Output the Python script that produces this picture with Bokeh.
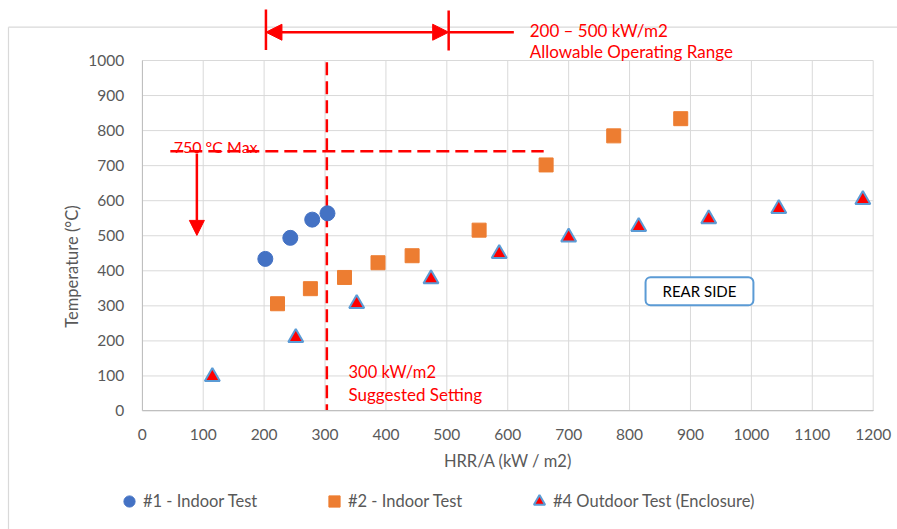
import math
from bokeh.plotting import figure
from bokeh.models import (Range1d, FixedTicker, Legend, LegendItem, Label, Arrow,
                          NormalHead)
from bokeh.embed import file_html
from bokeh.resources import INLINE

# ---- data ----
s1_x = [202, 243, 279, 304]
s1_y = [434, 494, 546, 564]
s2_x = [222, 276, 332, 387, 443, 553, 663, 774, 884]
s2_y = [306, 349, 381, 423, 443, 516, 702, 785, 834]
s3_x = [115, 252, 352, 474, 586, 700, 815, 930, 1045, 1183]
s3_y = [98, 209, 306, 377, 449, 496, 526, 548, 577, 603]
series_names = ["#1 - Indoor Test", "#2 - Indoor Test", "#4 Outdoor Test (Enclosure)"]
x_ticks = list(range(0, 1201, 100))
y_ticks = list(range(0, 1001, 100))
x_min, x_max = 0, 1200
y_min, y_max = 0, 1000
x_title = "HRR/A (kW / m2)"
y_title = "Temperature (°C)"

# annotation values (data units)
suggested_x = 303
max_temp_y = 741
range_lo, range_hi = 203, 503

FONT = "Lato"
GREY = "#595959"
RED = "#FF0000"
GRID = "#d9d9d9"

# frame covers the whole canvas; axes are pinned at x=0 / y=0
p = figure(width=897, height=529, output_backend="svg", toolbar_location=None,
           x_range=Range1d(-232.8, 1239.9), y_range=Range1d(-338.1, 1171.2),
           min_border_left=0, min_border_right=0, min_border_top=0,
           min_border_bottom=0)
p.outline_line_color = None
p.background_fill_color = "white"
p.border_fill_color = "white"
p.xgrid.visible = False
p.ygrid.visible = False

# chart-area border (left and top edges)
p.segment(x0=[-219.7, -219.7], y0=[1095, 1095], x1=[-219.7, 1300], y1=[-400, 1095],
          line_color=GRID, line_width=1.2, level="underlay")

# grid lines from the tick lists
p.segment(x0=x_ticks, y0=[y_min] * len(x_ticks), x1=x_ticks, y1=[y_max] * len(x_ticks),
          line_color=GRID, line_width=1, level="underlay")
p.segment(x0=[x_min] * len(y_ticks), y0=y_ticks, x1=[x_max] * len(y_ticks), y1=y_ticks,
          line_color=GRID, line_width=1, level="underlay")

p.xaxis.fixed_location = 0
p.yaxis.fixed_location = 0
p.xaxis.bounds = (x_min, x_max)
p.yaxis.bounds = (y_min, y_max)
p.xaxis.ticker = FixedTicker(ticks=x_ticks)
p.yaxis.ticker = FixedTicker(ticks=y_ticks)
for ax in (p.xaxis[0], p.yaxis[0]):
    ax.major_tick_line_color = None
    ax.minor_tick_line_color = None
    ax.major_tick_out = 0
    ax.major_tick_in = 0
    ax.minor_tick_out = 0
    ax.axis_line_color = "#bfbfbf"
    ax.major_label_text_font = FONT
    ax.major_label_text_font_size = "15.5px"
    ax.major_label_text_color = GREY
p.xaxis.major_label_standoff = 18
p.yaxis.major_label_standoff = 18
p.xaxis.axis_label = x_title
p.xaxis.axis_label_text_font = FONT
p.xaxis.axis_label_text_font_size = "16.5px"
p.xaxis.axis_label_text_font_style = "normal"
p.xaxis.axis_label_text_color = GREY
p.xaxis.axis_label_standoff = 8

p.add_layout(Label(x=-116.2, y=412, text=y_title, angle=math.pi / 2,
                   text_align="center", text_baseline="middle",
                   text_font=FONT, text_font_size="16.5px", text_color=GREY))

# dashed guide lines
p.segment(x0=[suggested_x], y0=[995], x1=[suggested_x], y1=[0],
          line_color=RED, line_width=2.5, line_dash="13 6")
p.segment(x0=[46], y0=[max_temp_y], x1=[659], y1=[max_temp_y],
          line_color=RED, line_width=2.5, line_dash="13 6")

# series
r1 = p.scatter(s1_x, s1_y, marker="circle", size=15, fill_color="#4472C4",
               line_color="#4472C4")
r2 = p.scatter(s2_x, s2_y, marker="square", size=14, fill_color="#ED7D31",
               line_color="#ED7D31")
r3 = p.scatter(s3_x, s3_y, marker="triangle", size=15, fill_color=RED,
               line_color="#5B9BD5", line_width=2)

def red_label(x, y, txt, size="17px"):
    p.add_layout(Label(x=x, y=y, text=txt, text_align="left", text_baseline="middle",
                       text_font=FONT, text_font_size=size, text_color=RED))

red_label(636, 1085.6, "200 – 500 kW/m2")
red_label(636, 1025.7, "Allowable Operating Range")
red_label(51.5, 755, "750 °C Max", "16px")
red_label(338.6, 111, "300 kW/m2", "16.5px")
red_label(338.6, 47, "Suggested Setting")

p.add_layout(Label(x=914.8, y=341.5, text="REAR SIDE", text_align="center",
                   text_baseline="middle", text_font=FONT, text_font_size="15px",
                   text_color="black", background_fill_color="white",
                   border_line_color="#5B9BD5", border_line_width=2,
                   border_radius=5, padding=dict(left=17, right=17, top=5, bottom=5)))

legend = Legend(items=[LegendItem(label=series_names[0], renderers=[r1]),
                       LegendItem(label=series_names[1], renderers=[r2]),
                       LegendItem(label=series_names[2], renderers=[r3])],
                orientation="horizontal", location=(115, 14),
                glyph_width=28, glyph_height=28, label_standoff=0,
                label_width=118, spacing=59, padding=0, margin=0,
                border_line_color=None, background_fill_color=None,
                label_text_font=FONT, label_text_font_size="16.5px",
                label_text_color=GREY)
p.add_layout(legend, "center")

# arrows (drawn last)
p.add_layout(Arrow(x_start=range_hi, y_start=1080.7, x_end=610, y_end=1080.7,
                   line_color=RED, line_width=2.5, end=None))
p.add_layout(Arrow(x_start=range_lo, y_start=1145.4, x_end=range_lo, y_end=1030,
                   line_color=RED, line_width=2.5, end=None))
p.add_layout(Arrow(x_start=range_hi, y_start=1142.7, x_end=range_hi, y_end=1028.5,
                   line_color=RED, line_width=2.5, end=None))
p.add_layout(Arrow(x_start=range_lo, y_start=1080.7, x_end=range_hi, y_end=1080.7,
                   line_color=RED, line_width=2.5,
                   start=NormalHead(size=16, fill_color=RED, line_color=RED),
                   end=NormalHead(size=16, fill_color=RED, line_color=RED)))
p.add_layout(Arrow(x_start=89.6, y_start=735, x_end=89.6, y_end=501,
                   line_color=RED, line_width=2.5,
                   end=NormalHead(size=15, fill_color=RED, line_color=RED)))

open("out.html", "w").write(file_html(p, INLINE))
